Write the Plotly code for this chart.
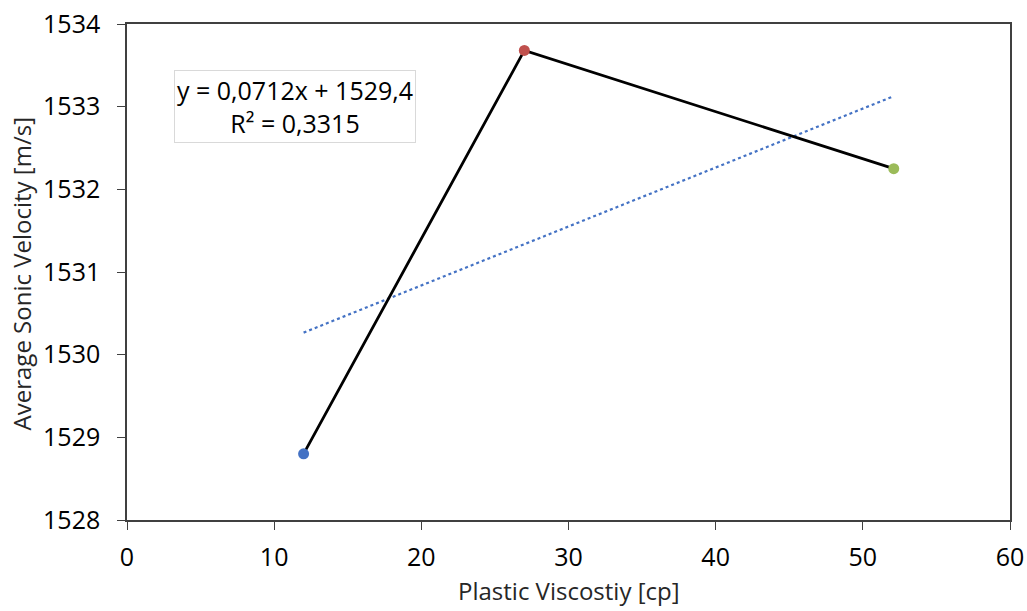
import numpy as np
import plotly.graph_objects as go

viscosity = [12, 27, 52.1]
velocity = [1528.8, 1533.68, 1532.25]
point_colors = ["#4472C4", "#C0504D", "#9BBB59"]
x_ticks = [0, 10, 20, 30, 40, 50, 60]
y_ticks = [1528, 1529, 1530, 1531, 1532, 1533, 1534]
x_title = "Plastic Viscostiy [cp]"
y_title = "Average Sonic Velocity [m/s]"
trend_label = "y = 0,0712x + 1529,4<br>R² = 0,3315"

slope, intercept = np.polyfit(viscosity, velocity, 1)
tx = [min(viscosity), max(viscosity)]
ty = [slope * x + intercept for x in tx]

FONT = "Open Sans"
fig = go.Figure()
fig.add_trace(go.Scatter(x=tx, y=ty, mode="lines",
                         line=dict(color="#4472C4", width=2.2, dash="dot"),
                         showlegend=False, hoverinfo="skip"))
fig.add_trace(go.Scatter(x=viscosity, y=velocity, mode="lines+markers",
                         line=dict(color="black", width=2.8),
                         marker=dict(color=point_colors, size=11),
                         showlegend=False))

fig.add_annotation(x=0.053, y=0.907, xref="paper", yref="paper",
                   xanchor="left", yanchor="top",
                   text=trend_label, showarrow=False, align="center",
                   font=dict(family=FONT, size=25, color="black"),
                   bordercolor="#D9D9D9", borderwidth=1, borderpad=2,
                   bgcolor="white")

title_font = dict(family=FONT, size=24, color="#262626")
fig.add_annotation(x=0.5, y=-0.143, xref="paper", yref="paper",
                   xanchor="center", yanchor="middle", showarrow=False,
                   text=x_title, font=title_font)
fig.add_annotation(x=-0.119, y=0.497, xref="paper", yref="paper",
                   xanchor="center", yanchor="middle", showarrow=False,
                   text=y_title, textangle=-90, font=title_font)

axis_common = dict(showgrid=False, zeroline=False, showline=True,
                   linecolor="#404040", linewidth=1.5, mirror=True,
                   ticks="outside", ticklen=8, tickcolor="#404040",
                   automargin=False,
                   tickfont=dict(family=FONT, size=25, color="black"))

fig.update_xaxes(range=[0, 60], tickvals=x_ticks, ticklabelstandoff=6,
                 **axis_common)
fig.update_yaxes(range=[1528, 1534], tickvals=y_ticks, ticklabelstandoff=12,
                 **axis_common)

fig.update_layout(width=1027, height=611,
                  margin=dict(l=127, r=17, t=24, b=91),
                  plot_bgcolor="white", paper_bgcolor="white")

fig.write_html("out.html")
